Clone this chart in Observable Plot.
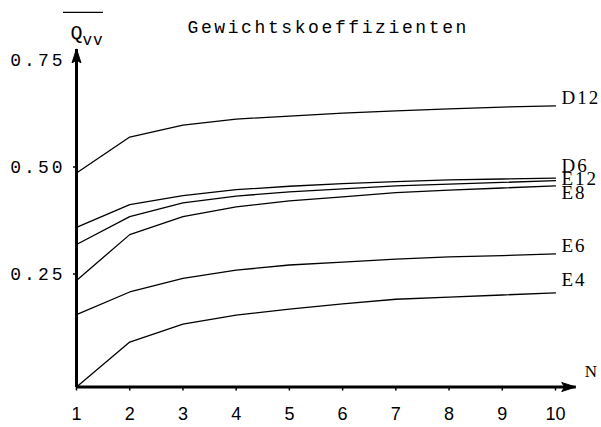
<!DOCTYPE html>
<html>
<head>
<meta charset="utf-8">
<script src="https://cdn.jsdelivr.net/npm/d3@7"></script>
<script src="https://cdn.jsdelivr.net/npm/@observablehq/plot@0.6"></script>
<style>
  html, body { margin: 0; padding: 0; background: white; }
</style>
</head>
<body>
<div id="chart"></div>
<script>
// ---- data ----
const N = [1, 2, 3, 4, 5, 6, 7, 8, 9, 10];
const D12 = [0.500, 0.584, 0.612, 0.626, 0.633, 0.640, 0.645, 0.650, 0.654, 0.657];
const D6  = [0.373, 0.426, 0.447, 0.461, 0.469, 0.475, 0.480, 0.484, 0.486, 0.488];
const E12 = [0.333, 0.398, 0.430, 0.446, 0.456, 0.463, 0.470, 0.474, 0.478, 0.482];
const E8  = [0.249, 0.356, 0.398, 0.421, 0.435, 0.444, 0.454, 0.460, 0.465, 0.470];
const E6  = [0.169, 0.222, 0.254, 0.273, 0.285, 0.292, 0.299, 0.304, 0.307, 0.311];
const E4  = [0.000, 0.105, 0.147, 0.168, 0.182, 0.194, 0.205, 0.210, 0.215, 0.220];
const seriesNames = ["D12", "D6", "E12", "E8", "E6", "E4"];
const seriesValues = [D12, D6, E12, E8, E6, E4];
const yTicks = [0.25, 0.50, 0.75];
const titleText = "Gewichtskoeffizienten";
const yLabelMain = "Q";
const yLabelSub = "vv";
const xLabel = "N";
const axisEnd = { x: 10.38, y: 0.79 };

// ---- layout / style (not data) ----
const labelNudge = { D12: -8, D6: -12, E12: -2, E8: 7, E6: -8, E4: -13 };

const rows = [];
seriesNames.forEach((s, i) => N.forEach((n, j) => rows.push({ series: s, N: n, v: seriesValues[i][j] })));
const lastRows = seriesNames.map((s, i) => ({ series: s, N: N[N.length - 1], v: seriesValues[i][N.length - 1] }));

const arrowHead = {
  draw(ctx) {
    const l = 14, w = 4.5;
    ctx.moveTo(0, 0);
    ctx.lineTo(-w, l);
    ctx.lineTo(0, l - 3);
    ctx.lineTo(w, l);
    ctx.closePath();
  }
};

const mono = "'Liberation Mono', 'DejaVu Sans Mono', monospace";
const serif = "'Liberation Serif', 'DejaVu Serif', serif";
const sans = "'Liberation Sans', 'DejaVu Sans', sans-serif";

const chart = Plot.plot({
  width: 601,
  height: 427,
  marginLeft: 76,
  marginRight: 46,
  marginTop: 65.5,
  marginBottom: 40.5,
  style: { background: "white", color: "black", overflow: "visible" },
  x: { domain: [1, 10] },
  y: { domain: [0, 0.75] },
  marks: [
    Plot.axisX({
      ticks: N, tickFormat: d => String(d), tickSize: 4, tickPadding: 16,
      fontSize: 18, fontFamily: sans, label: null, strokeWidth: 1.5
    }),
    Plot.axisY({
      ticks: yTicks, tickFormat: d3.format(".2f"), tickSize: 3, tickPadding: 8,
      dy: -6, fontSize: 18, fontFamily: mono, label: null, strokeWidth: 1.5
    }),
    // data lines
    Plot.line(rows, { x: "N", y: "v", z: "series", stroke: "black", strokeWidth: 1.3 }),
    // series labels at the line ends
    ...seriesNames.map(s =>
      Plot.text(lastRows.filter(d => d.series === s), {
        x: "N", y: "v", text: "series", textAnchor: "start", dx: 6, dy: labelNudge[s],
        fontSize: 19, fontFamily: serif, className: "serieslabel"
      })
    ),
    // axis lines with arrows
    Plot.link([axisEnd], { x1: 1, y1: 0, x2: d => d.x, y2: 0, stroke: "black", strokeWidth: 3 }),
    Plot.link([axisEnd], { x1: 1, y1: 0, x2: 1, y2: d => d.y, stroke: "black", strokeWidth: 3 }),
    Plot.dot([axisEnd], { x: d => d.x, y: 0, symbol: arrowHead, r: 5, rotate: 90, fill: "black", stroke: "black", strokeWidth: 1 }),
    Plot.dot([axisEnd], { x: 1, y: d => d.y, symbol: arrowHead, r: 5, rotate: 0, fill: "black", stroke: "black", strokeWidth: 1 }),
    // axis labels
    Plot.text([xLabel], { x: axisEnd.x, y: 0, text: d => d, dx: 9, dy: -15, textAnchor: "start", fontSize: 17, fontFamily: serif }),
    Plot.text([yLabelMain], { x: 1, y: axisEnd.y, text: d => d, dx: 0, dy: -16, textAnchor: "middle", fontSize: 20, fontFamily: mono }),
    Plot.text([yLabelSub], { x: 1, y: axisEnd.y, text: d => d, dx: 6, dy: -9, textAnchor: "start", fontSize: 16, fontFamily: mono, className: "ysub" }),
    // title
    Plot.text([titleText], { frameAnchor: "top-left", text: d => d, dx: 111, dy: -33, lineAnchor: "bottom", textAnchor: "start", fontSize: 18, fontFamily: mono, className: "charttitle" })
  ]
});

document.getElementById("chart").appendChild(chart);

// letter spacing to imitate typewriter pitch
d3.select(chart).selectAll(".charttitle text").style("letter-spacing", "2.6px");
d3.select(chart).selectAll("g[aria-label='y-axis tick label'] text").style("letter-spacing", "3px");
d3.select(chart).selectAll(".serieslabel text").style("letter-spacing", "2px");
d3.select(chart).selectAll(".ysub text").style("letter-spacing", "1px");

// overline above the Q_vv symbol, positioned from the scales
const sx = chart.scale("x"), sy = chart.scale("y");
const qx = sx.apply(1), qy = sy.apply(axisEnd.y);
d3.select(chart).append("line")
  .attr("x1", qx - 13).attr("x2", qx + 27)
  .attr("y1", qy - 36).attr("y2", qy - 36)
  .attr("stroke", "black").attr("stroke-width", 1.3);
</script>
</body>
</html>
